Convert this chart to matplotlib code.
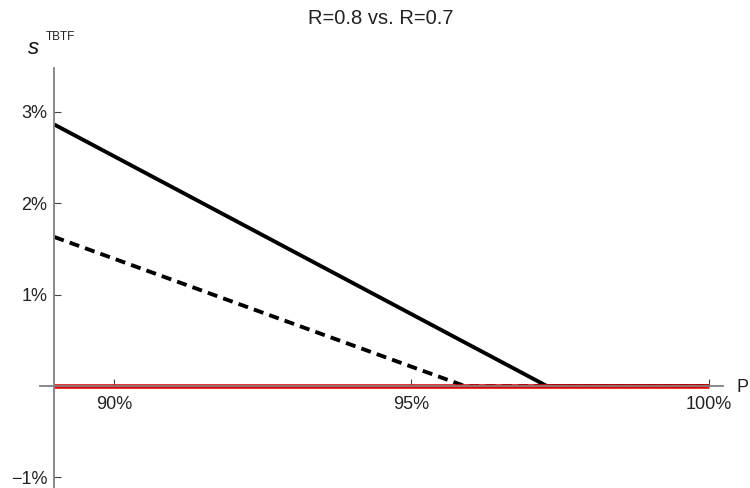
import matplotlib.pyplot as plt

plt.rcParams['font.family'] = ['Liberation Sans', 'DejaVu Sans']

# Data (P in %, s in %)
p_solid = [89.0, 97.28, 100.0]
s_solid = [2.86, 0.0, 0.0]
p_dash = [89.0, 95.9, 100.0]
s_dash = [1.63, 0.0, 0.0]
p_red = [89.0, 100.0]
s_red = [0.0, 0.0]

x_ticks = [90, 95, 100]
x_labels = ["90%", "95%", "100%"]
y_ticks = [-1, 1, 2, 3]
y_labels = ["\u22121%", "1%", "2%", "3%"]

W, H = 750, 488
fig = plt.figure(figsize=(7.5, 4.88), dpi=100)
# axes placed in pixel terms: left 40, right 723, top 68, bottom 488
ax = fig.add_axes([40 / W, 0 / H, (723 - 40) / W, (488 - 68) / H])
ax.set_xlim(88.76, 100.24)
ax.set_ylim(-1.115, 3.478)

ax.plot(p_solid, s_solid, color='black', lw=2.8, solid_capstyle='butt')
ax.plot(p_dash, s_dash, color='black', lw=2.8, dashes=(2.6, 1.6))
ax.plot(p_red, s_red, color='#e60000', lw=3.3, solid_capstyle='butt')

for side in ['top', 'right']:
    ax.spines[side].set_visible(False)
ax.spines['left'].set_position(('data', 89.0))
ax.spines['bottom'].set_position(('data', 0.0))
for side in ['left', 'bottom']:
    ax.spines[side].set_color('#808080')
    ax.spines[side].set_linewidth(1.3)

ax.set_xticks(x_ticks)
ax.set_xticklabels(x_labels)
ax.set_yticks(y_ticks)
ax.set_yticklabels(y_labels)
ax.tick_params(axis='both', direction='in', length=5, width=0.8,
               color='#444444', labelsize=13, labelcolor='#222222')
ax.tick_params(axis='x', pad=7)
ax.tick_params(axis='y', pad=5)

fig.text(737 / W, 1 - 387 / H, "P", fontsize=13, color='#222222',
         ha='left', va='center')
fig.text(28 / W, 1 - 49 / H, "s", fontsize=16, color='#111111',
         ha='left', va='center', fontstyle='italic')
fig.text(46 / W, 1 - 37 / H, "TBTF", fontsize=8.5, color='#222222',
         ha='left', va='center')
fig.text(381 / W, 1 - 18 / H, "R=0.8 vs. R=0.7", fontsize=14.5,
         color='#222222', ha='center', va='center')

fig.savefig("out.png", dpi=100)
